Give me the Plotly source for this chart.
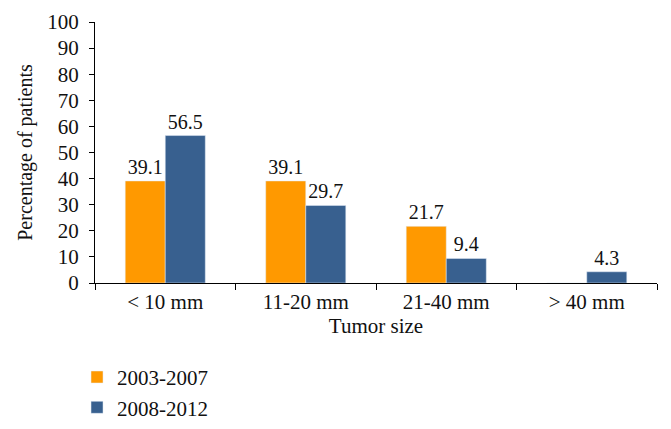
import plotly.graph_objects as go

categories = ["< 10 mm", "11-20 mm", "21-40 mm", "> 40 mm"]
series_2003 = [39.1, 39.1, 21.7, 0]
series_2008 = [56.5, 29.7, 9.4, 4.3]
labels_2003 = ["39.1", "39.1", "21.7", ""]
labels_2008 = ["56.5", "29.7", "9.4", "4.3"]
y_ticks = [0, 10, 20, 30, 40, 50, 60, 70, 80, 90, 100]

FONT = "Liberation Serif"
fig = go.Figure()
fig.add_bar(x=categories, y=series_2003, name="2003-2007", marker_color="#FF9900",
            text=labels_2003, textposition="outside", cliponaxis=False,
            textfont=dict(size=20, color="#111"))
fig.add_bar(x=categories, y=series_2008, name="2008-2012", marker_color="#38608F",
            text=labels_2008, textposition="outside", cliponaxis=False,
            textfont=dict(size=20, color="#111"))

fig.update_layout(
    width=663, height=421,
    margin=dict(l=87, r=14, t=14, b=146, autoexpand=False),
    paper_bgcolor="white", plot_bgcolor="white",
    font=dict(family=FONT, size=21, color="#111"),
    barmode="group", bargap=0.43, bargroupgap=0,
    showlegend=True,
    legend=dict(orientation="v", x=-0.032, y=-0.283, xanchor="left", yanchor="top",
                font=dict(size=21), tracegroupgap=0),
)
fig.update_xaxes(showline=True, linecolor="black", linewidth=1, ticks="outside",
                 tickson="boundaries", ticklen=6, tickcolor="black",
                 title=dict(text="Tumor size", standoff=0, font=dict(size=21)),
                 showgrid=False, automargin=False)
fig.update_yaxes(range=[0, 100], tickvals=y_ticks, showline=True, linecolor="black",
                 linewidth=1, ticks="outside", ticklen=5, tickcolor="black",
                 ticklabelstandoff=6,
                 title=dict(text="Percentage of patients", standoff=9, font=dict(size=20)),
                 showgrid=False, zeroline=False, automargin=False)

fig.write_html("out.html")
